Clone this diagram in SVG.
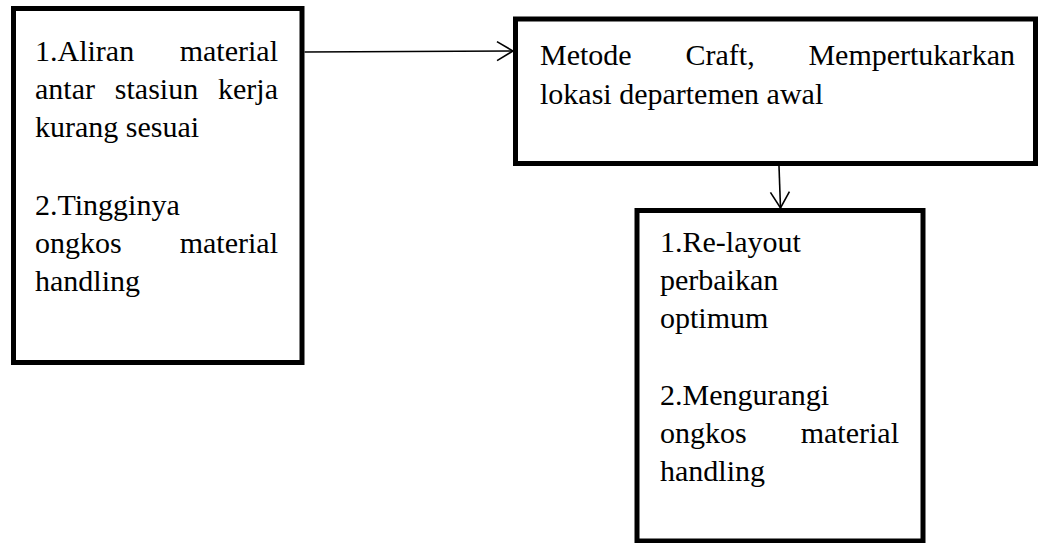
<svg xmlns="http://www.w3.org/2000/svg" width="1039" height="543" viewBox="0 0 1039 543">
<style>
.box{fill:#fff;stroke:#000;stroke-width:5}
.lbl{font-size:30px;fill:#000}
.e{text-anchor:end}
.m{text-anchor:middle}
.conn{stroke:#000;stroke-width:1.6;fill:none}
</style>
<defs>
<marker id="open" markerUnits="userSpaceOnUse" viewBox="-18 -12 20 24" markerWidth="20" markerHeight="24" refX="0" refY="0" orient="auto" overflow="visible">
<path d="M -16 -9.5 L 0 0 L -16 9.5" fill="none" stroke="#000" stroke-width="1.6"/>
</marker>
</defs>
<rect width="1039" height="543" fill="#fff"/>
<g id="problems" font-family="Liberation Serif, Times New Roman, serif">
<rect class="box" x="13.5" y="8.5" width="288.5" height="354"/>
<text class="lbl" x="35" y="61">1.Aliran</text>
<text class="lbl e" x="278" y="61">material</text>
<text class="lbl" x="35" y="99">antar</text>
<text class="lbl m" x="156.5" y="99">stasiun</text>
<text class="lbl e" x="278" y="99">kerja</text>
<text class="lbl" x="35" y="137">kurang sesuai</text>
<text class="lbl" x="35" y="215">2.Tingginya</text>
<text class="lbl" x="35" y="253">ongkos</text>
<text class="lbl e" x="278" y="253">material</text>
<text class="lbl" x="35" y="291">handling</text>
</g>
<g id="method" font-family="Liberation Serif, Times New Roman, serif">
<rect class="box" x="515.5" y="19" width="520" height="144.5"/>
<text class="lbl" x="540" y="65">Metode</text>
<text class="lbl" x="685.5" y="65">Craft,</text>
<text class="lbl e" x="1015" y="65">Mempertukarkan</text>
<text class="lbl" x="540" y="104">lokasi departemen awal</text>
</g>
<g id="result" font-family="Liberation Serif, Times New Roman, serif">
<rect class="box" x="637" y="210.5" width="286" height="330.5"/>
<text class="lbl" x="660" y="252">1.Re-layout</text>
<text class="lbl" x="660" y="290">perbaikan</text>
<text class="lbl" x="660" y="328">optimum</text>
<text class="lbl" x="660" y="405">2.Mengurangi</text>
<text class="lbl" x="660" y="443">ongkos</text>
<text class="lbl e" x="899" y="443">material</text>
<text class="lbl" x="660" y="481">handling</text>
</g>
<g id="connectors">
<line class="conn" x1="304.5" y1="52" x2="513" y2="51" marker-end="url(#open)"/>
<line class="conn" x1="779" y1="166" x2="780.5" y2="208" marker-end="url(#open)"/>
</g>
</svg>
